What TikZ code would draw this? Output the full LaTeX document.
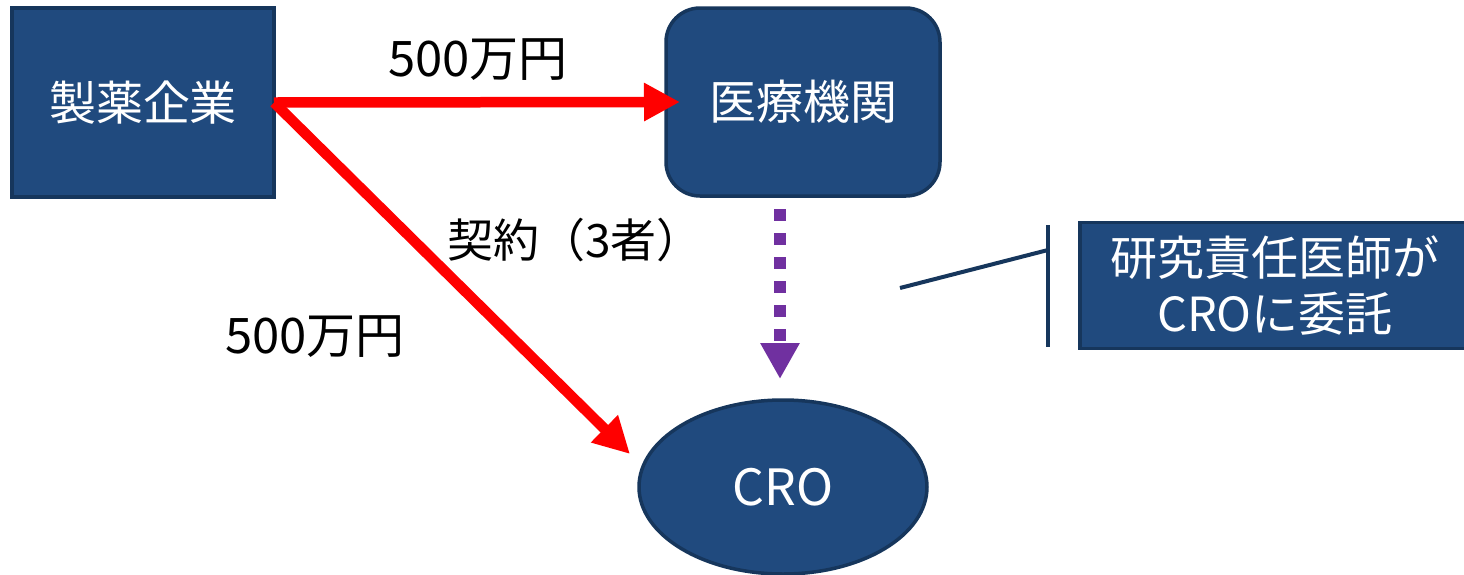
\documentclass[tikz,border=0pt]{standalone}
\usepackage{fontspec}
\setmainfont{Noto Sans CJK JP}
\usetikzlibrary{arrows.meta,shapes.geometric}
\definecolor{boxfill}{RGB}{32,74,126}
\definecolor{boxline}{RGB}{22,54,92}
\definecolor{purp}{RGB}{112,48,160}
\definecolor{redarr}{RGB}{255,0,0}
\begin{document}
\begin{tikzpicture}[x=0.5pt,y=-0.5pt,
  blk/.style={fill=boxfill,draw=boxline,line width=1.75pt,text=white,align=center,inner sep=0pt,outer sep=0pt,font=\fontsize{23.5}{28}\selectfont},
  lbl/.style={text=black,inner sep=0pt,font=\fontsize{23}{28}\selectfont},
  moneylbl/.style={text=black,inner sep=0pt,font=\fontsize{24.5}{28}\selectfont},
  money/.style={draw=redarr,line width=5.25pt,-{Triangle[length=18pt,width=18pt]}},
  delegate/.style={draw=purp,line width=6pt,dash pattern=on 6pt off 6pt,-{Triangle[length=18pt,width=18.5pt]}},
  callline/.style={draw=boxline,line width=2pt}]
\useasboundingbox (0,0) rectangle (1464,574);
% nodes
\node[blk,minimum width=131pt,minimum height=94.5pt] (pharma) at (143,102.5) {製薬企業};
\node[blk,rounded corners=17pt,minimum width=137pt,minimum height=94pt] (med) at (803,102) {医療機関};
\node[blk,ellipse,minimum width=144pt,minimum height=87pt,font=\fontsize{25}{28}\selectfont] (cro) at (783,487) {CRO};
\node[blk,minimum width=195pt,minimum height=63pt] (note) at (1275,285.5) {研究責任医師が\\CROに委託};
% labels
\node[moneylbl] (l1) at (478,60) {500万円};
\node[lbl] (l2) at (575,240) {契約（3者）};
\node[moneylbl] (l3) at (315,337) {500万円};
% connectors
\coordinate (medin) at (680,102);
\coordinate (croin) at (630,454);
\coordinate (purpstart) at (780,209);
\coordinate (purpend) at (780,379);
\draw[money] (pharma.east) -- (medin);
\draw[money] (pharma.east) -- (croin);
\draw[delegate] (purpstart) -- (purpend);
% callout
\coordinate (cvtop) at (1048,225);
\coordinate (cvbot) at (1048,347);
\coordinate (cvmid) at (1048,250);
\coordinate (cend) at (900,288);
\draw[callline] (cvtop) -- (cvbot);
\draw[callline] (cvmid) -- (cend);
\end{tikzpicture}
\end{document}
